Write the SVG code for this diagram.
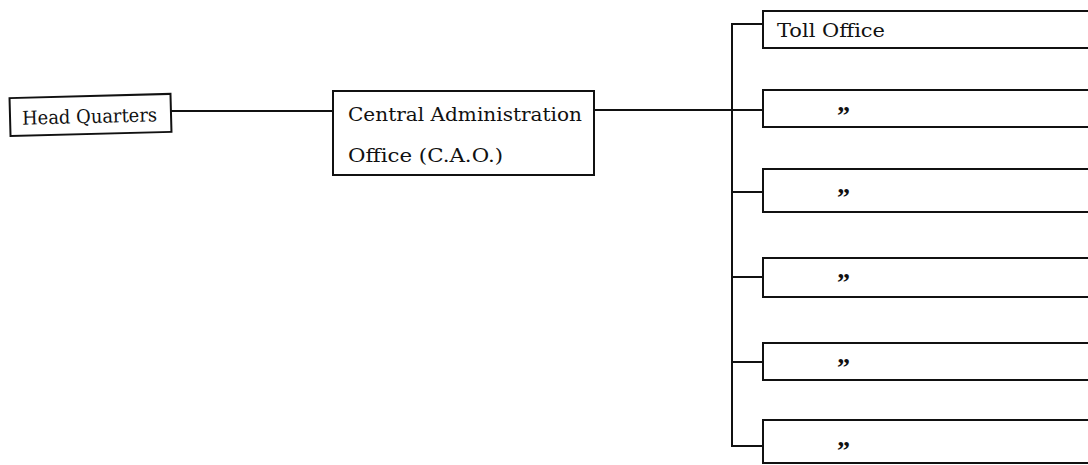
<svg xmlns="http://www.w3.org/2000/svg" width="1088" height="465" viewBox="0 0 1088 465">
<style>
.box{fill:#fff;stroke:#111;stroke-width:2}
.ln{fill:none;stroke:#111;stroke-width:2}
.t{font-family:"DejaVu Serif","Liberation Serif",serif;font-size:19px;fill:#111}
.d{font-family:"Liberation Serif","DejaVu Serif",serif;font-size:26px;font-weight:bold;fill:#111;letter-spacing:1px}
</style>
<rect width="1088" height="465" fill="#fff"/>
<g id="connectors">
<line class="ln" x1="171" y1="111" x2="333" y2="111"/>
<line class="ln" x1="594" y1="110" x2="763" y2="110"/>
<line class="ln" x1="732" y1="24" x2="732" y2="446"/>
<line class="ln" x1="731" y1="24" x2="763" y2="24"/>
<line class="ln" x1="732" y1="192" x2="763" y2="192"/>
<line class="ln" x1="732" y1="277" x2="763" y2="277"/>
<line class="ln" x1="732" y1="362" x2="763" y2="362"/>
<line class="ln" x1="731" y1="446" x2="763" y2="446"/>
</g>
<g id="hq" transform="rotate(-1.5 90 115)">
<rect class="box" x="10" y="96" width="161" height="38"/>
<text class="t" x="22" y="123" textLength="135" lengthAdjust="spacingAndGlyphs">Head Quarters</text>
</g>
<g id="cao">
<rect class="box" x="333" y="91" width="261" height="84"/>
<text class="t" x="348" y="121" textLength="234" lengthAdjust="spacingAndGlyphs">Central Administration</text>
<text class="t" x="348" y="162" textLength="155" lengthAdjust="spacingAndGlyphs">Office (C.A.O.)</text>
</g>
<g id="toll1">
<rect class="box" x="763" y="11" width="340" height="37"/>
<text class="t" x="777" y="37" textLength="108" lengthAdjust="spacingAndGlyphs">Toll Office</text>
</g>
<g id="toll2">
<rect class="box" x="763" y="90" width="340" height="37"/>
<text class="d" x="837" y="124">”</text>
</g>
<g id="toll3">
<rect class="box" x="763" y="169" width="340" height="43"/>
<text class="d" x="837" y="206">”</text>
</g>
<g id="toll4">
<rect class="box" x="763" y="258" width="340" height="39"/>
<text class="d" x="837" y="291">”</text>
</g>
<g id="toll5">
<rect class="box" x="763" y="343" width="340" height="37"/>
<text class="d" x="837" y="376">”</text>
</g>
<g id="toll6">
<rect class="box" x="763" y="420" width="340" height="43"/>
<text class="d" x="837" y="459">”</text>
</g>
</svg>
